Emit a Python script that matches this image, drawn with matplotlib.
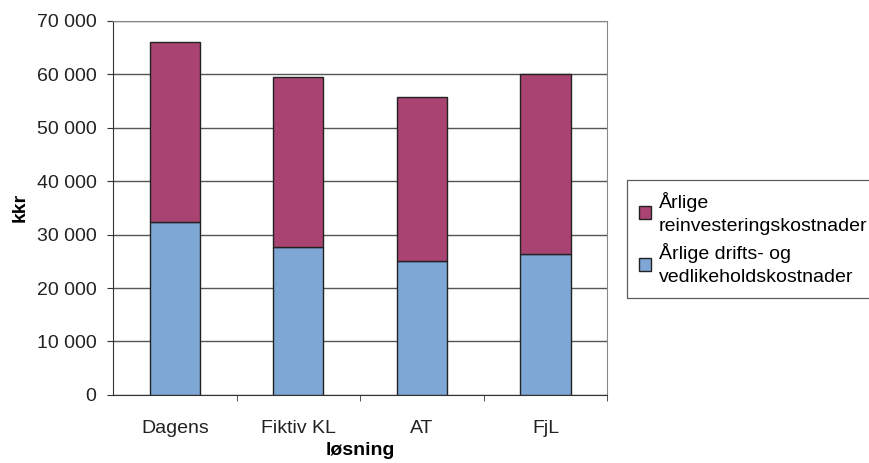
import matplotlib

matplotlib.use("Agg")
import matplotlib.pyplot as plt
from matplotlib.ticker import FuncFormatter, FixedLocator

plt.rcParams["font.family"] = ["Liberation Sans", "DejaVu Sans"]

categories = ["Dagens", "Fiktiv KL", "AT", "FjL"]
drift = [32300, 27700, 25000, 26400]          # Årlige drifts- og vedlikeholdskostnader
reinvest = [33700, 31800, 30700, 33600]       # Årlige reinvesteringskostnader
yticks = [0, 10000, 20000, 30000, 40000, 50000, 60000, 70000]

RED = "#a94372"
BLUE = "#7fa7d6"
GRID = "#555555"
FS = 14

fig = plt.figure(figsize=(8.7, 4.63), dpi=100)
ax = fig.add_axes([0.130, 0.147, 0.568, 0.808])

x = list(range(len(categories)))
ax.bar(x, drift, width=0.405, color=BLUE, edgecolor="#222222", lw=1.0,
       label="Årlige drifts- og\nvedlikeholdskostnader", zorder=3)
ax.bar(x, reinvest, bottom=drift, width=0.405, color=RED, edgecolor="#222222", lw=1.0,
       label="Årlige\nreinvesteringskostnader", zorder=3)

ax.set_xlim(-0.5, len(categories) - 0.5)
ax.set_ylim(0, 70000)
ax.set_yticks(yticks)
ax.yaxis.set_major_formatter(FuncFormatter(lambda v, p: f"{int(v):,}".replace(",", " ")))
ax.grid(axis="y", color=GRID, lw=1.0, zorder=0)

ax.set_xticks(x)
ax.set_xticklabels(categories)
ax.tick_params(axis="x", which="major", length=0, pad=18, labelsize=FS, colors="#222222")
ax.xaxis.set_minor_locator(FixedLocator([i + 0.5 for i in range(len(categories))]))
ax.tick_params(axis="x", which="minor", length=4, color="#333333")
ax.tick_params(axis="y", length=4, pad=8, color="#333333", labelsize=FS, labelcolor="#222222")

for side in ["top", "right"]:
    ax.spines[side].set_color("#888888")
for side in ["left", "bottom"]:
    ax.spines[side].set_color("#333333")

ax.set_ylabel("kkr", fontsize=FS, fontweight="bold", labelpad=6)
ax.set_xlabel("løsning", fontsize=FS, fontweight="bold", labelpad=4)

handles, labels = ax.get_legend_handles_labels()
leg = fig.legend(handles[::-1], labels[::-1], loc="upper left",
                 bbox_to_anchor=(627 / 870, 1 - 180 / 463), fontsize=FS,
                 frameon=True, fancybox=False, edgecolor="#333333",
                 handlelength=0.65, handleheight=0.65, handletextpad=0.4,
                 labelspacing=0.45, borderpad=0.6, borderaxespad=0)
leg.get_frame().set_linewidth(0.9)
for t in leg.get_texts():
    t.set_linespacing(1.45)

fig.savefig("out.png", dpi=100, facecolor="white")
